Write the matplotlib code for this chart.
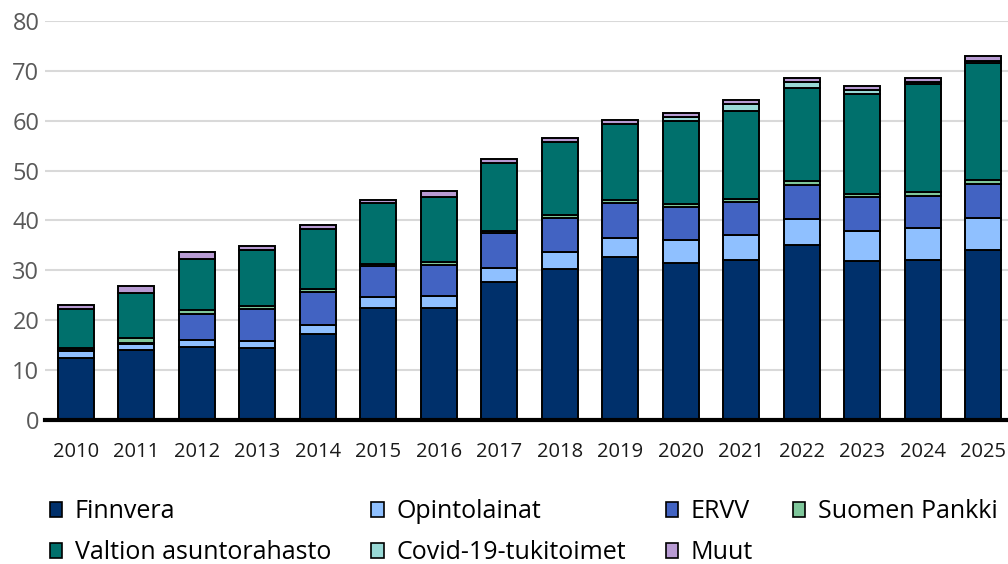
import numpy as np
import matplotlib.pyplot as plt

plt.rcParams['font.family'] = ['Open Sans', 'DejaVu Sans']

years = [str(y) for y in range(2010, 2026)]
finnvera = [12.5, 14.0, 14.7, 14.4, 17.3, 22.4, 22.5, 27.6, 30.2, 32.6, 31.5, 32.0, 35.0, 31.8, 32.0, 34.1]
opinto = [1.3, 1.2, 1.4, 1.5, 1.8, 2.2, 2.3, 2.8, 3.4, 3.9, 4.6, 5.0, 5.4, 6.1, 6.4, 6.5]
ervv = [0.3, 0.3, 5.1, 6.3, 6.5, 6.2, 6.3, 7.0, 7.0, 7.0, 6.7, 6.8, 6.8, 6.8, 6.6, 6.7]
suomen_pankki = [0.3, 0.9, 0.9, 0.7, 0.7, 0.5, 0.6, 0.4, 0.5, 0.6, 0.6, 0.6, 0.7, 0.6, 0.8, 0.8]
var = [7.8, 9.0, 10.2, 11.2, 11.9, 12.3, 13.1, 13.7, 14.6, 15.3, 16.5, 17.6, 18.6, 20.0, 21.5, 23.5]
covid = [0, 0, 0, 0, 0, 0, 0, 0, 0, 0, 0.8, 1.4, 1.3, 0.9, 0.5, 0.4]
muut = [0.9, 1.4, 1.3, 0.8, 0.8, 0.6, 1.2, 0.8, 0.9, 0.8, 0.9, 0.7, 0.7, 0.8, 0.8, 0.9]

series = [
    ('Finnvera', finnvera, '#00306b'),
    ('Opintolainat', opinto, '#8fc0ff'),
    ('ERVV', ervv, '#4263c2'),
    ('Suomen Pankki', suomen_pankki, '#7fc79b'),
    ('Valtion asuntorahasto', var, '#00706c'),
    ('Covid-19-tukitoimet', covid, '#99d9d6'),
    ('Muut', muut, '#b89bd3'),
]

fig = plt.figure(figsize=(10.08, 5.64), dpi=100)
ax = fig.add_axes([0.0446, 0.2553, 0.9554, 0.7075])

x = np.arange(len(years))
bottom = np.zeros(len(years))
handles = {}
for name, vals, col in series:
    vals = np.array(vals)
    b = ax.bar(x, vals, 0.59, bottom=bottom, color=col, edgecolor='black',
               linewidth=1.4, zorder=3, label=name)
    handles[name] = b
    bottom += vals

ax.set_xlim(-0.51, 15.41)
ax.set_ylim(0, 80)
ax.set_yticks(range(0, 81, 10))
ax.set_xticks(x)
ax.set_xticklabels(years)
ax.grid(axis='y', color='#d9d9d9', linewidth=1.5, zorder=0)
ax.set_axisbelow(True)
for s in ['top', 'right', 'left']:
    ax.spines[s].set_visible(False)
ax.spines['bottom'].set_linewidth(3)
ax.spines['bottom'].set_zorder(4)
ax.tick_params(axis='y', length=0, labelsize=17, labelcolor='#595959', pad=4)
ax.tick_params(axis='x', length=0, labelsize=14.5, labelcolor='#1a1a1a', pad=16)

order = ['Finnvera', 'Valtion asuntorahasto', 'Opintolainat', 'Covid-19-tukitoimet',
         'ERVV', 'Muut', 'Suomen Pankki']
leg = fig.legend([handles[n] for n in order], order, loc='lower left',
                 bbox_to_anchor=(0.027, -0.042), ncol=4, frameon=False, fontsize=18,
                 handlelength=0.5, handleheight=0.55, handletextpad=0.5,
                 columnspacing=1.6, labelspacing=0.65)
for h in leg.legend_handles:
    h.set_linewidth(1.2)

fig.savefig('out.png', dpi=100)
